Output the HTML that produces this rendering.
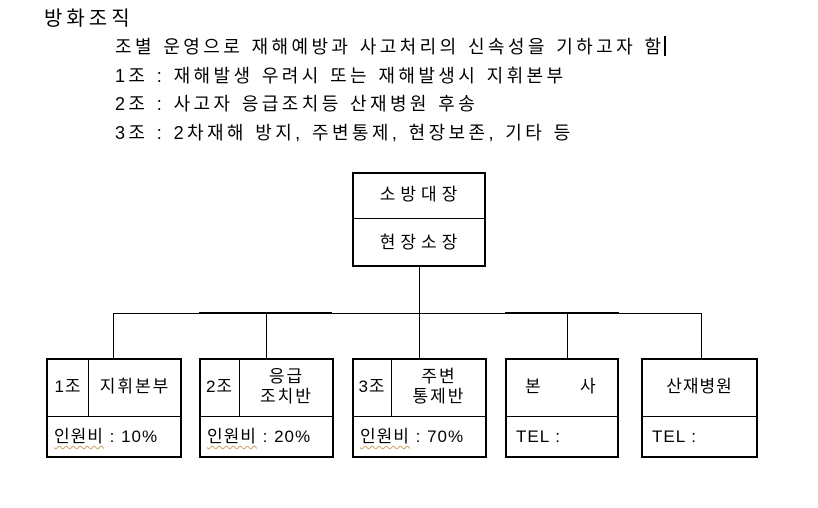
<!DOCTYPE html>
<html><head><meta charset="utf-8"><style>
body{margin:0;width:818px;height:508px;background:#fff;position:relative;overflow:hidden;font-family:"Liberation Sans","Noto Sans CJK KR","NanumGothic",sans-serif;color:#000}
.t{position:absolute;white-space:nowrap}
.l{position:absolute;background:#000}
.b{position:absolute;border:2px solid #000;box-sizing:border-box}
.c{position:absolute;font-size:17px;white-space:nowrap;text-align:center;line-height:20px;letter-spacing:1px}
.u{text-decoration:underline wavy #c8a060;text-decoration-thickness:1px;text-underline-offset:3px}
</style></head><body>
<div class="t" style="left:44px;top:2px;font-size:20px;letter-spacing:4px">방화조직</div>
<div class="t" style="left:115px;top:33px;font-size:18px;letter-spacing:3.4px">조별 운영으로 재해예방과 사고처리의 신속성을 기하고자 함<span style="display:inline-block;width:2px;height:20px;background:#000;vertical-align:-3px;margin-left:0"></span></div>
<div class="t" style="left:115px;top:62px;font-size:18px;letter-spacing:3.4px">1조 : 재해발생 우려시 또는 재해발생시 지휘본부</div>
<div class="t" style="left:115px;top:90px;font-size:18px;letter-spacing:3.4px">2조 : 사고자 응급조치등 산재병원 후송</div>
<div class="t" style="left:115px;top:119px;font-size:18px;letter-spacing:3.4px">3조 : 2차재해 방지, 주변통제, 현장보존, 기타 등</div>

<!-- top box -->
<div class="b" style="left:352px;top:172px;width:134px;height:95px"></div>
<div class="l" style="left:352px;top:218px;width:134px;height:1px"></div>
<div class="c" style="left:354px;top:185px;width:134px;letter-spacing:5px">소방대장</div>
<div class="c" style="left:354px;top:233px;width:134px;letter-spacing:5px">현장소장</div>

<!-- connectors -->
<div class="l" style="left:419px;top:267px;width:1px;height:91px"></div>
<div class="l" style="left:113px;top:313px;width:589px;height:1px"></div>
<div class="l" style="left:199px;top:312px;width:133px;height:2px"></div>
<div class="l" style="left:505px;top:312px;width:114px;height:2px"></div>
<div class="l" style="left:113px;top:313px;width:1px;height:45px"></div>
<div class="l" style="left:266px;top:313px;width:1px;height:45px"></div>
<div class="l" style="left:567px;top:313px;width:1px;height:45px"></div>
<div class="l" style="left:701px;top:313px;width:1px;height:45px"></div>

<!-- box1 -->
<div class="b" style="left:46px;top:358px;width:136px;height:100px"></div>
<div class="l" style="left:46px;top:416px;width:136px;height:1px"></div>
<div class="l" style="left:88px;top:358px;width:1px;height:58px"></div>
<div class="c" style="left:48px;top:377px;width:40px">1조</div>
<div class="c" style="left:89px;top:377px;width:92px;letter-spacing:2px">지휘본부</div>
<div class="c" style="left:54px;top:427px;text-align:left"><span class="u">인원비</span> :&nbsp;10%</div>
<!-- box2 -->
<div class="b" style="left:199px;top:358px;width:135px;height:100px"></div>
<div class="l" style="left:199px;top:416px;width:135px;height:1px"></div>
<div class="l" style="left:239px;top:358px;width:1px;height:58px"></div>
<div class="c" style="left:200px;top:377px;width:39px">2조</div>
<div class="c" style="left:240px;top:367px;width:93px;letter-spacing:2px">응급<br>조치반</div>
<div class="c" style="left:207px;top:427px;text-align:left"><span class="u">인원비</span> :&nbsp;20%</div>
<!-- box3 -->
<div class="b" style="left:352px;top:358px;width:135px;height:100px"></div>
<div class="l" style="left:352px;top:416px;width:135px;height:1px"></div>
<div class="l" style="left:391px;top:358px;width:1px;height:58px"></div>
<div class="c" style="left:353px;top:377px;width:38px">3조</div>
<div class="c" style="left:392px;top:367px;width:94px;letter-spacing:2px">주변<br>통제반</div>
<div class="c" style="left:360px;top:427px;text-align:left"><span class="u">인원비</span> :&nbsp;70%</div>
<!-- box4 -->
<div class="b" style="left:505px;top:358px;width:114px;height:100px"></div>
<div class="l" style="left:505px;top:416px;width:114px;height:1px"></div>
<div class="c" style="left:525px;top:377px;text-align:left">본</div>
<div class="c" style="left:580px;top:377px;text-align:left">사</div>
<div class="c" style="left:516px;top:427px;text-align:left">TEL :</div>
<!-- box5 -->
<div class="b" style="left:641px;top:358px;width:117px;height:100px"></div>
<div class="l" style="left:641px;top:416px;width:117px;height:1px"></div>
<div class="c" style="left:641px;top:377px;width:117px">산재병원</div>
<div class="c" style="left:652px;top:427px;text-align:left">TEL :</div>
</body></html>
